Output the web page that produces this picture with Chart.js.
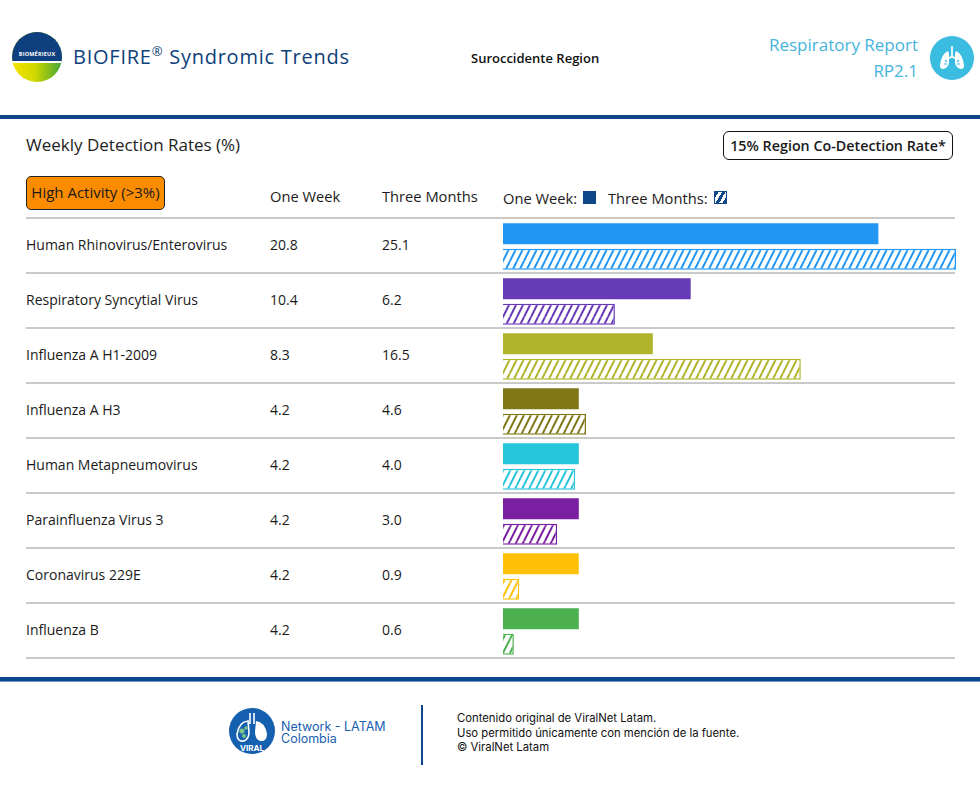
<!DOCTYPE html>
<html>
<head>
<meta charset="utf-8">
<script src="https://cdn.jsdelivr.net/npm/chart.js@4.4.1/dist/chart.umd.min.js"></script>
<style>
	html, body { margin: 0; padding: 0; background: #fff; }
	body { width: 980px; height: 810px; position: relative; overflow: hidden; font-family: "Open Sans", "Noto Sans", sans-serif; color: #1a1a1a; }
	.abs { position: absolute; }
	.bar-line { position: absolute; left: 0; width: 980px; height: 4px; background: #0d4689; }
	.sep { position: absolute; left: 26px; width: 929px; height: 2px; background: #c9c9c9; }
	.cell { position: absolute; font-size: 14px; line-height: 18px; white-space: nowrap; }
	.head { position: absolute; font-size: 14.7px; line-height: 18px; white-space: nowrap; }
	#chartBox { position: absolute; left: 503px; top: 219px; width: 453px; height: 440px; }
</style>
</head>
<body>

<!-- header -->
<div class="abs" style="left:12px;top:32px;width:50px;height:50px;border-radius:50%;overflow:hidden;background:linear-gradient(90deg,#f6e500 0%,#d2d800 45%,#3fa535 100%);">
	<div class="abs" style="left:0;top:0;width:50px;height:29px;background:#0e3f7e;"></div>
	<div class="abs" style="left:0;top:29px;width:50px;height:2px;background:#fff;"></div>
	<div class="abs" style="left:0;top:18px;width:50px;text-align:center;font-size:5.5px;font-weight:700;color:#fff;letter-spacing:0.2px;">BIOMÉRIEUX</div>
</div>
<div class="abs" style="left:73px;top:43px;font-size:20px;color:#0d3f7a;letter-spacing:0.75px;white-space:nowrap;">BIOFIRE<sup style="font-size:13px;line-height:0;">®</sup> Syndromic Trends</div>
<div class="abs" style="left:471px;top:49px;font-size:13px;font-weight:600;color:#111;">Suroccidente Region</div>
<div class="abs" style="right:62px;top:32px;font-size:17px;color:#45b4db;text-align:right;line-height:26px;">Respiratory Report<br>RP2.1</div>
<div class="abs" style="left:930px;top:36px;width:44px;height:44px;border-radius:50%;background:#3bbde1;">
	<svg width="44" height="44" viewBox="0 0 44 44">
		<path d="M22 10 V22 M22 20 Q19 23 17 23 M22 20 Q25 23 27 23" stroke="#fff" stroke-width="1.6" fill="none"/>
		<path d="M18 15 Q11 18 10 30 Q10 33 13 33 Q18 32 19 27 L19 18 Z" fill="#fff"/>
		<path d="M26 15 Q33 18 34 30 Q34 33 31 33 Q26 32 25 27 L25 18 Z" fill="#fff"/>
		<path d="M15 24 L17 26 M14 28 L17 28 M29 24 L27 26 M30 28 L27 28" stroke="#3bbde1" stroke-width="1.1"/>
	</svg>
</div>
<div class="bar-line" style="top:115px;"></div>

<!-- table header -->
<div class="abs" style="left:26px;top:133px;font-size:17px;color:#222;">Weekly Detection Rates (%)</div>
<div class="abs" style="left:723px;top:131px;width:228px;height:27px;border:1.5px solid #111;border-radius:6px;font-size:14.3px;font-weight:600;line-height:27px;text-align:center;">15% Region Co-Detection Rate*</div>
<div class="abs" style="left:26px;top:176px;width:137px;height:32px;border:1.5px solid #222;border-radius:5px;background:#fb8c00;font-size:15px;line-height:31px;text-align:center;">High Activity (&gt;3%)</div>
<div class="head" style="left:270px;top:187px;">One Week</div>
<div class="head" style="left:382px;top:187px;">Three Months</div>
<div class="head" style="left:503px;top:189px;">One Week:</div>
<div class="abs" style="left:583px;top:191px;width:13px;height:13px;background:#0d4689;"></div>
<div class="head" style="left:608px;top:189px;">Three Months:</div>
<div class="abs" style="left:714px;top:191px;width:13px;height:13px;box-sizing:border-box;border:1.5px solid #0d4689;background:repeating-linear-gradient(-60deg,#0d4689 0 3px,#fff 3px 6px);"></div>
<div class="sep" style="top:217px;"></div>

<div id="rows"></div>
<div id="chartBox"><canvas id="rateChart"></canvas></div>

<!-- footer -->
<div class="bar-line" style="top:677px;"></div>
<div class="abs" style="left:0;top:681px;width:980px;height:1px;background:#6b9ad1;"></div>
<div class="abs" style="left:229px;top:708px;width:46px;height:46px;">
	<svg width="46" height="46" viewBox="0 0 46 46">
		<circle cx="23" cy="23" r="23" fill="#1660b0"/>
		<path d="M21 5 V16 M25 5 V16" stroke="#fff" stroke-width="1.6"/>
		<path d="M19 13 Q10 14 8 26 Q8 34 15 33 Q20 31 20 24 Z" fill="none" stroke="#fff" stroke-width="1.6"/>
		<path d="M27 13 Q36 14 38 26 Q38 34 31 33 Q26 31 26 24 Z" fill="#fff"/>
		<circle cx="13" cy="23" r="2.6" fill="#7dc48a"/><circle cx="17" cy="20" r="1.8" fill="#7dc48a"/><circle cx="15" cy="28" r="2" fill="#7dc48a"/>
		<text x="23" y="43" font-size="8" font-weight="700" fill="#fff" text-anchor="middle" font-family="Inter, sans-serif">VIRAL</text>
	</svg>
</div>
<div class="abs" style="left:281px;top:721px;font-family:Inter,Lato,sans-serif;font-size:12.5px;line-height:12px;color:#1660b0;">Network - LATAM<br>Colombia</div>
<div class="abs" style="left:421px;top:705px;width:2px;height:60px;background:#0d4689;"></div>
<div class="abs" style="left:457px;top:711px;font-family:Inter,Lato,sans-serif;font-size:11.3px;line-height:14.5px;color:#111;">Contenido original de ViralNet Latam.<br>Uso permitido únicamente con mención de la fuente.<br>© ViralNet Latam</div>

<script>
// detection rates (%)
const viruses = [
	"Human Rhinovirus/Enterovirus",
	"Respiratory Syncytial Virus",
	"Influenza A H1-2009",
	"Influenza A H3",
	"Human Metapneumovirus",
	"Parainfluenza Virus 3",
	"Coronavirus 229E",
	"Influenza B",
];
const oneWeek = [20.8, 10.4, 8.3, 4.2, 4.2, 4.2, 4.2, 4.2];
const threeMonths = [25.1, 6.2, 16.5, 4.6, 4.0, 3.0, 0.9, 0.6];

const palette = ["#2196f3", "#673ab7", "#afb42b", "#827717", "#26c6da", "#7b1fa2", "#ffc107", "#4caf50"];

const ROW_TOP = 219;
const ROW_H = 55;

// table text + separators
var rows = document.getElementById("rows");
var html = "";
for (var i = 0; i < viruses.length; i++) {
	var y = ROW_TOP + i * ROW_H;
	var ty = y + 17;
	html += '<div class="cell" style="left:26px;top:' + ty + 'px;">' + viruses[i] + '</div>';
	html += '<div class="cell" style="left:270px;top:' + ty + 'px;">' + oneWeek[i].toFixed(1) + '</div>';
	html += '<div class="cell" style="left:382px;top:' + ty + 'px;">' + threeMonths[i].toFixed(1) + '</div>';
	html += '<div class="sep" style="top:' + (y + ROW_H - 2) + 'px;"></div>';
}
rows.innerHTML = html;

function hatch(color) {
	var c = document.createElement("canvas");
	c.width = 7;
	c.height = 14;
	var x = c.getContext("2d");
	x.fillStyle = "#fff";
	x.fillRect(0, 0, 7, 14);
	x.strokeStyle = color;
	x.lineWidth = 2;
	x.beginPath();
	x.moveTo(-7, 14); x.lineTo(0, 0);
	x.moveTo(0, 14); x.lineTo(7, 0);
	x.moveTo(7, 14); x.lineTo(14, 0);
	x.stroke();
	return x.createPattern(c, "repeat");
}

var ctx = document.getElementById("rateChart");
var rateChart = new Chart(ctx, {
	type: "bar",
	data: {
		labels: viruses,
		datasets: [
			{
				label: "One Week",
				data: oneWeek,
				backgroundColor: palette,
				borderColor: palette,
				borderWidth: 0,
				categoryPercentage: 0.93,
				barPercentage: 0.82,
			},
			{
				label: "Three Months",
				data: threeMonths,
				backgroundColor: palette.map(hatch),
				borderColor: palette,
				borderWidth: 1.5,
				categoryPercentage: 0.93,
				barPercentage: 0.82,
			},
		],
	},
	options: {
		indexAxis: "y",
		maintainAspectRatio: false,
		responsive: true,
		animation: false,
		layout: { padding: 0 },
		plugins: {
			legend: { display: false },
			tooltip: { enabled: false },
		},
		scales: {
			x: { display: false, min: 0, max: 25.1 },
			y: { display: false },
		},
	},
});
</script>
</body>
</html>
